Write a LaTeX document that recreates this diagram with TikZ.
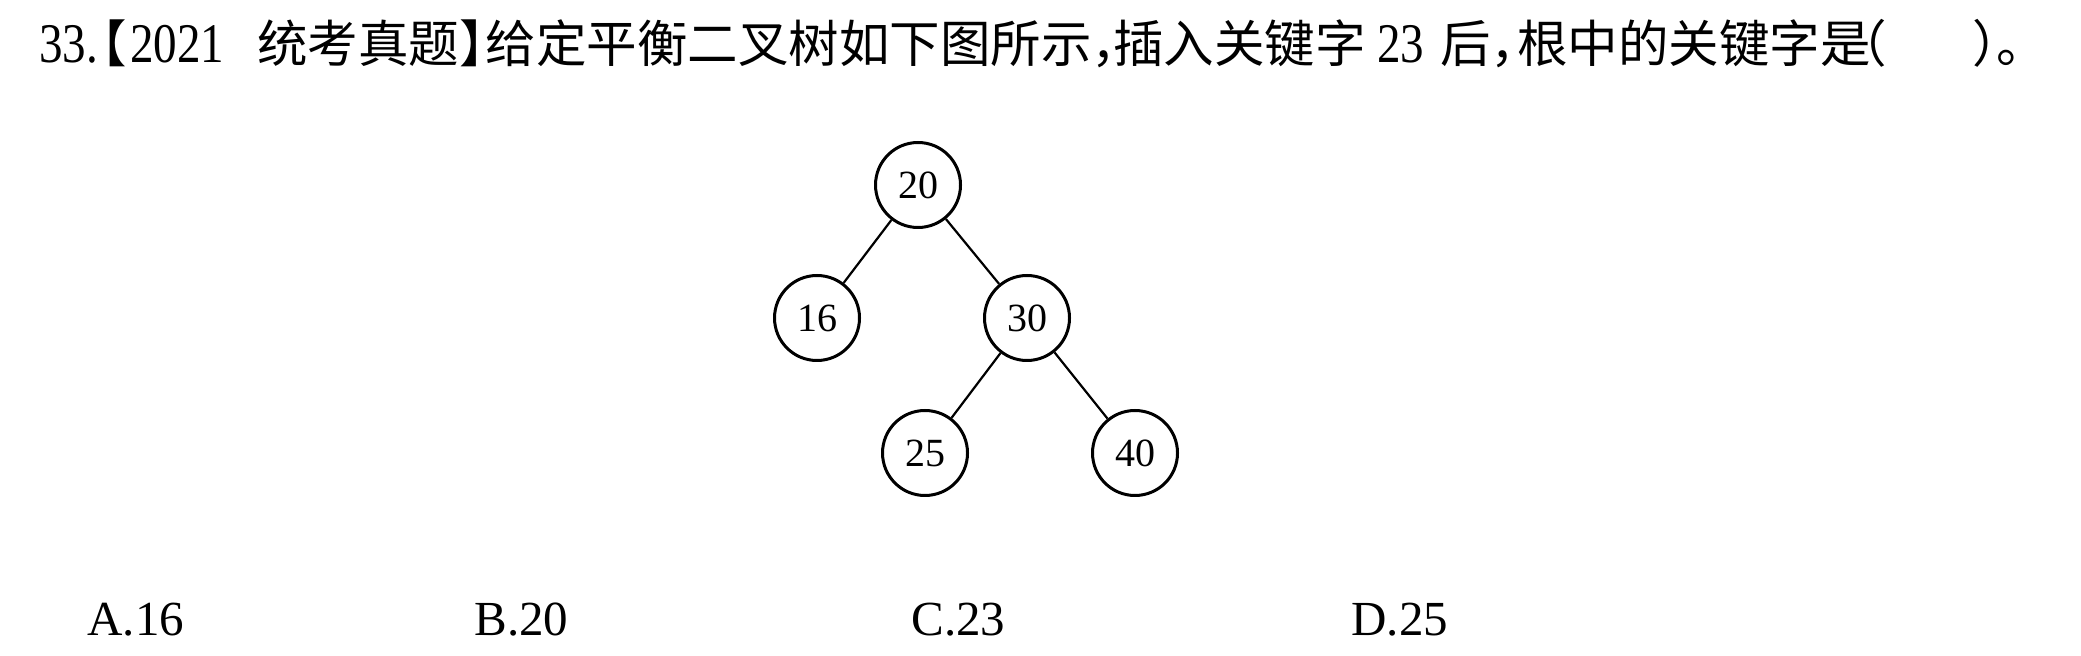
\documentclass[tikz,border=0pt]{standalone}
\usepackage{fontspec}
\setmainfont{Liberation Serif}
\newfontfamily\titlelat[FakeStretch=0.84]{Liberation Serif}
\newfontfamily\cjk{Noto Sans CJK SC}
\begin{document}
\begin{tikzpicture}[x=0.5pt,y=-0.5pt,
  keynode/.style={circle,draw=black,line width=1.5pt,minimum size=42.5pt,inner sep=0pt,font=\fontsize{20}{24}\selectfont},
  edge/.style={line width=1.1pt,draw=black},
  latpart/.style={anchor=base west,inner sep=0pt,font=\fontsize{28}{30}\selectfont\titlelat},
  cjkpart/.style={anchor=base west,inner sep=0pt,font=\fontsize{25.25}{30}\selectfont\cjk},
  choice/.style={anchor=base west,inner sep=0pt,font=\fontsize{24.5}{28}\selectfont}]
\useasboundingbox (0,0) rectangle (2081,656);
% title, set in pieces so that the half-width punctuation lands where the reference has it
\node[latpart] (t1) at (39,63) {33.\kern-11pt{\fontsize{25.25}{30}\selectfont\cjk 【}\kern1.75pt 2021};
\node[cjkpart] (t4) at (257,63) {统考真题】\kern-12pt 给定平衡二叉树如下图所示，};
\node[cjkpart] (t5) at (1113,63) {插入关键字};
\node[latpart] (t6) at (1377,63) {23};
\node[cjkpart] (t7) at (1440,63) {后，};
\node[cjkpart] (t8) at (1517,63) {根中的关键字是};
\node[cjkpart,anchor=base east] (t9) at (1887,63) {（};
\node[cjkpart] (t10) at (1972,63) {）\kern-13pt 。};
% tree
\node[keynode] (n20) at (918,185) {20};
\node[keynode] (n16) at (817,318) {16};
\node[keynode] (n30) at (1027,318) {30};
\node[keynode] (n25) at (925,453) {25};
\node[keynode] (n40) at (1135,453) {40};
\draw[edge] (n20) -- (n16);
\draw[edge] (n20) -- (n30);
\draw[edge] (n30) -- (n25);
\draw[edge] (n30) -- (n40);
% choices
\node[choice] (optA) at (87,635) {A.16};
\node[choice] (optB) at (474,635) {B.20};
\node[choice] (optC) at (911,635) {C.23};
\node[choice] (optD) at (1351,635) {D.25};
\end{tikzpicture}
\end{document}
